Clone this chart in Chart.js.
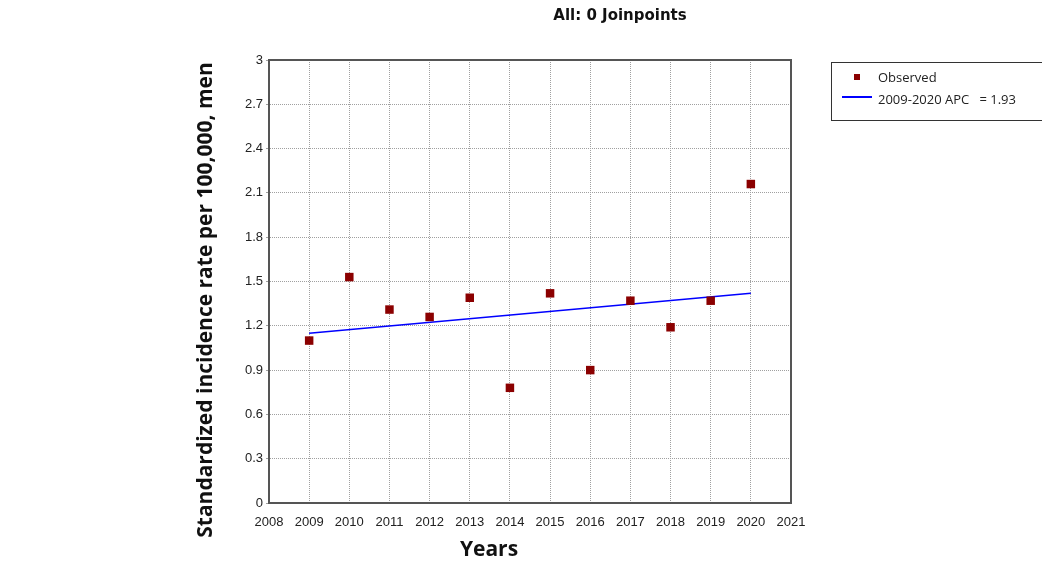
<!DOCTYPE html>
<html>
<head>
<meta charset="utf-8">
<script src="https://cdn.jsdelivr.net/npm/chart.js@4/dist/chart.umd.min.js"></script>
<style>
  html, body { margin: 0; padding: 0; background: #fff; }
  #wrap { position: relative; width: 1042px; height: 563px; }
</style>
</head>
<body>
<div id="wrap"><canvas id="joinpoint"></canvas></div>
<script>
// data
const years = [2009, 2010, 2011, 2012, 2013, 2014, 2015, 2016, 2017, 2018, 2019, 2020];
const observed = [1.10, 1.53, 1.31, 1.26, 1.39, 0.78, 1.42, 0.90, 1.37, 1.19, 1.37, 2.16];
const fitYears = [2009, 2020];
const fitted = [1.15, 1.42];
const yTicks = [0, 0.3, 0.6, 0.9, 1.2, 1.5, 1.8, 2.1, 2.4, 2.7, 3];

const chartTitle = 'All: 0 Joinpoints';
const xTitle = 'Years';
const yTitle = 'Standardized incidence rate per 100,000, men';
const observedLabel = 'Observed';
const fitLabel = '2009-2020 APC   = 1.93';

const obsColor = '#8b0000';
const fitColor = '#0000ff';

// title, axis titles, frame and boxed legend
const decorations = {
  id: 'decorations',
  afterDraw(chart) {
    const ctx = chart.ctx;
    const a = chart.chartArea;
    ctx.save();

    // plot frame
    ctx.strokeStyle = '#555';
    ctx.lineWidth = 2;
    ctx.strokeRect(a.left, a.top, a.right - a.left, a.bottom - a.top);

    ctx.fillStyle = '#111';
    ctx.textAlign = 'center';
    ctx.textBaseline = 'middle';
    ctx.font = 'bold 15px "DejaVu Sans"';
    ctx.fillText(chartTitle, 620, 16);

    ctx.font = 'bold 21px "Open Sans"';
    ctx.fillText(xTitle, 489, 550);

    ctx.save();
    ctx.translate(206, 300);
    ctx.rotate(-Math.PI / 2);
    ctx.fillText(yTitle, 0, 0);
    ctx.restore();

    // legend box
    ctx.strokeStyle = '#333';
    ctx.lineWidth = 1;
    ctx.strokeRect(831.5, 62.5, 220, 58);

    ctx.fillStyle = obsColor;
    ctx.fillRect(854, 74, 6, 6);
    ctx.strokeStyle = fitColor;
    ctx.lineWidth = 2;
    ctx.beginPath();
    ctx.moveTo(842, 97);
    ctx.lineTo(872, 97);
    ctx.stroke();

    ctx.fillStyle = '#222';
    ctx.textAlign = 'left';
    ctx.font = '13px "Open Sans"';
    ctx.fillText(observedLabel, 878, 78);
    ctx.fillText(fitLabel, 878, 100);
    ctx.restore();
  }
};

new Chart(document.getElementById('joinpoint'), {
  type: 'line',
  data: {
    datasets: [
      {
        label: observedLabel,
        data: years.map((y, i) => ({ x: y, y: observed[i] })),
        showLine: false,
        pointStyle: 'rect',
        pointRadius: 6,
        pointBackgroundColor: obsColor,
        pointBorderColor: obsColor,
        pointBorderWidth: 0
      },
      {
        label: fitLabel,
        data: fitYears.map((y, i) => ({ x: y, y: fitted[i] })),
        borderColor: fitColor,
        borderWidth: 1.5,
        pointRadius: 0,
        tension: 0
      }
    ]
  },
  options: {
    responsive: true,
    maintainAspectRatio: false,
    animation: false,
    layout: { padding: { left: 0, top: 60, right: 251, bottom: 0 } },
    plugins: {
      legend: { display: false },
      title: { display: false },
      tooltip: { enabled: false }
    },
    scales: {
      x: {
        type: 'linear',
        min: 2008,
        max: 2021,
        afterFit: (s) => { s.height = 60; },
        ticks: {
          stepSize: 1,
          autoSkip: false,
          maxRotation: 0,
          padding: 12,
          color: '#222',
          font: { family: '"Liberation Sans"', size: 13 },
          callback: (v) => String(v)
        },
        grid: { color: '#a0a0a0', lineWidth: 1, tickLength: 0 },
        border: { display: true, color: '#555', width: 2, dash: [1, 1] }
      },
      y: {
        min: 0,
        max: 3,
        afterFit: (s) => { s.width = 269; },
        afterBuildTicks: (s) => { s.ticks = yTicks.map(v => ({ value: v })); },
        ticks: {
          padding: 3,
          color: '#222',
          font: { family: '"Liberation Sans"', size: 13 },
          callback: (v) => String(v)
        },
        grid: { color: '#a0a0a0', lineWidth: 1, tickLength: 3 },
        border: { display: true, color: '#555', width: 2, dash: [1, 1] }
      }
    }
  },
  plugins: [decorations]
});
</script>
</body>
</html>
